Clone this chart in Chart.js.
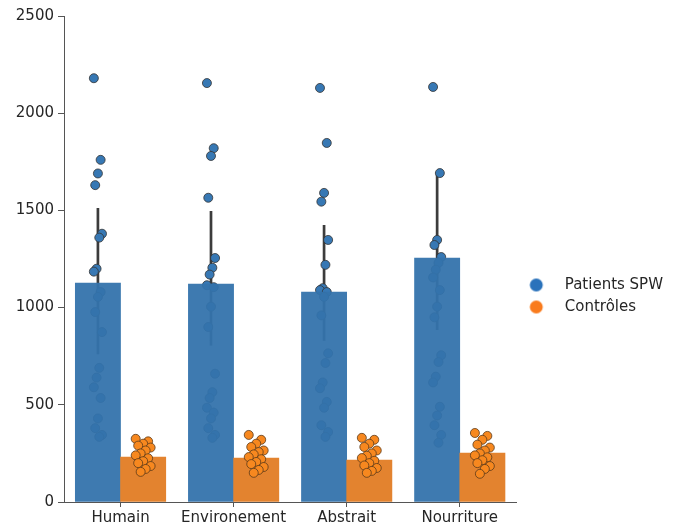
<!DOCTYPE html>
<html lang="fr">
<head>
<meta charset="utf-8">
<title>Patients SPW vs Contrôles</title>
<script src="https://cdn.jsdelivr.net/npm/chart.js@4.4.1/dist/chart.umd.min.js"></script>
<style>
    html, body { margin: 0; padding: 0; background: #fff; }
    #wrap { width: 673px; height: 532px; position: relative; }
</style>
</head>
<body>
<div id="wrap"><canvas id="stripChart"></canvas></div>
<script>
// Catégories et moyennes (barres)
const categories = ['Humain', 'Environement', 'Abstrait', 'Nourriture'];
const seriesNames = ['Patients SPW', 'Contrôles'];
const yTicks = [0, 500, 1000, 1500, 2000, 2500];

const meanSPW = [1126, 1121, 1080, 1255];
const meanCtl = [231, 226, 216, 252];

// Intervalles de confiance (barres d'erreur)
const ciLowSPW = [760, 805, 830, 885];
const ciHighSPW = [1512, 1497, 1425, 1697];
const ciLowCtl = [205, 202, 195, 225];
const ciHighCtl = [257, 250, 238, 280];

// Valeurs individuelles (points)
const spwHumain = [2180, 1760, 1690, 1630, 1380, 1360, 1200, 1185, 1080, 1055, 977, 874, 690, 640, 590, 535, 430, 380, 345, 335];
const spwEnvironement = [2155, 1820, 1780, 1565, 1255, 1205, 1170, 1115, 1105, 1005, 900, 660, 565, 535, 485, 460, 430, 380, 345, 330];
const spwAbstrait = [2130, 1847, 1590, 1545, 1348, 1220, 1100, 1090, 1080, 1055, 960, 765, 715, 615, 585, 515, 485, 395, 360, 335];
const spwNourriture = [2135, 1692, 1348, 1322, 1260, 1230, 1195, 1155, 1090, 1005, 950, 755, 720, 645, 615, 490, 445, 395, 345, 305];

const ctlHumain = [325, 312, 300, 290, 280, 265, 250, 240, 225, 210, 200, 185, 170, 155];
const ctlEnvironement = [345, 320, 300, 283, 265, 257, 245, 231, 220, 206, 195, 180, 165, 150];
const ctlAbstrait = [330, 320, 300, 283, 265, 250, 238, 226, 212, 200, 188, 175, 160, 150];
const ctlNourriture = [355, 340, 320, 295, 280, 265, 250, 240, 230, 215, 200, 185, 170, 145];

const spwPoints = [spwHumain, spwEnvironement, spwAbstrait, spwNourriture];
const ctlPoints = [ctlHumain, ctlEnvironement, ctlAbstrait, ctlNourriture];

const COL_BAR_SPW = 'rgba(52, 115, 172, 0.95)';
const COL_BAR_CTL = '#e3832f';
const COL_PT_SPW = '#3778b4';
const COL_PT_CTL = '#f7881f';
const COL_ERR = '#3c3c3c';
const COL_TEXT = '#262626';
const COL_AXIS = '#555555';

const DODGE = 0.2;

// Barres placées sur l'axe linéaire (centre de catégorie +/- DODGE)
function barData(means, side) {
    return means.map((v, i) => ({ x: i + side * DODGE, y: v }));
}

// Points en bande : décalage fixe (non aléatoire) autour du centre de la barre
function stripData(groups, side, spread) {
    const out = [];
    groups.forEach((vals, i) => {
        vals.forEach((v, k) => {
            const jit = (((k * 5) % 7) - 3) * spread;
            out.push({ x: i + side * DODGE + jit, y: v });
        });
    });
    return out;
}

function errData(lo, hi, side) {
    const out = [];
    lo.forEach((l, i) => {
        const x = i + side * DODGE;
        out.push({ x: x, y: l }, { x: x, y: hi[i] }, { x: x, y: null });
    });
    return out;
}

// Marqueurs de légende : cercle dans une petite image
function legendMarker(color) {
    const c = document.createElement('canvas');
    c.width = 34;
    c.height = 15;
    const g = c.getContext('2d');
    g.fillStyle = color;
    g.beginPath();
    g.arc(13, 7.5, 6.5, 0, Math.PI * 2);
    g.fill();
    return c;
}
const markers = [legendMarker('#2a72bb'), legendMarker('#f97b1d')];

Chart.defaults.font.family = "'DejaVu Sans', sans-serif";
Chart.defaults.font.size = 15;
Chart.defaults.color = COL_TEXT;

const barCommon = {
    type: 'bar', borderWidth: 0, grouped: false,
    categoryPercentage: 1.0, barPercentage: 1.0
};

new Chart(document.getElementById('stripChart'), {
    type: 'bar',
    data: {
        datasets: [
            Object.assign({}, barCommon, {
                label: seriesNames[0], data: barData(meanSPW, -1),
                backgroundColor: COL_BAR_SPW, order: 3
            }),
            Object.assign({}, barCommon, {
                label: seriesNames[1], data: barData(meanCtl, 1),
                backgroundColor: COL_BAR_CTL, order: 2
            }),
            {
                type: 'line', label: 'errSPW', data: errData(ciLowSPW, ciHighSPW, -1),
                borderColor: COL_ERR, borderWidth: 2.7, pointRadius: 0, spanGaps: false,
                borderCapStyle: 'butt', order: 5
            },
            {
                type: 'line', label: 'ptsSPW', data: stripData(spwPoints, -1, 0.012),
                showLine: false, pointRadius: 4.5, pointBackgroundColor: COL_PT_SPW,
                pointBorderColor: '#333333', pointBorderWidth: 0.8, order: 4
            },
            {
                type: 'line', label: 'errCtl', data: errData(ciLowCtl, ciHighCtl, 1),
                borderColor: COL_ERR, borderWidth: 2.7, pointRadius: 0, spanGaps: false,
                borderCapStyle: 'butt', order: 1
            },
            {
                type: 'line', label: 'ptsCtl', data: stripData(ctlPoints, 1, 0.022),
                showLine: false, pointRadius: 4.5, pointBackgroundColor: COL_PT_CTL,
                pointBorderColor: '#5a3a1a', pointBorderWidth: 0.8, order: 0
            }
        ]
    },
    options: {
        responsive: true,
        maintainAspectRatio: false,
        animation: false,
        events: [],
        layout: { padding: { top: 16, right: 0, bottom: 0, left: 0 } },
        scales: {
            x: {
                type: 'linear',
                offset: false,
                min: -0.5,
                max: categories.length - 0.5,
                afterBuildTicks: (scale) => { scale.ticks = categories.map((c, i) => ({ value: i })); },
                grid: { display: true, drawOnChartArea: false, offset: false, tickLength: 5, color: COL_AXIS },
                border: { display: true, color: COL_AXIS, width: 1 },
                ticks: {
                    color: COL_TEXT, padding: 2, maxRotation: 0, autoSkip: false,
                    callback: (v) => categories[v]
                },
                afterFit: (scale) => { scale.height = 30; }
            },
            y: {
                type: 'linear',
                min: yTicks[0],
                max: yTicks[yTicks.length - 1],
                afterBuildTicks: (scale) => { scale.ticks = yTicks.map(v => ({ value: v })); },
                grid: { display: true, drawOnChartArea: false, tickLength: 6, color: COL_AXIS },
                border: { display: true, color: COL_AXIS, width: 1 },
                ticks: { color: COL_TEXT, padding: 4, callback: (v) => String(v) },
                afterFit: (scale) => { scale.width = 64; }
            }
        },
        plugins: {
            tooltip: { enabled: false },
            legend: {
                position: 'right',
                align: 'center',
                title: { display: true, text: '', padding: { top: 26, bottom: 0 } },
                labels: {
                    usePointStyle: true,
                    pointStyleWidth: 34,
                    padding: 7,
                    color: COL_TEXT,
                    generateLabels: () => seriesNames.map((name, i) => ({
                        text: name,
                        pointStyle: markers[i],
                        fillStyle: 'transparent',
                        strokeStyle: 'transparent',
                        lineWidth: 0,
                        hidden: false,
                        datasetIndex: i,
                        fontColor: COL_TEXT
                    }))
                }
            }
        }
    }
});
</script>
</body>
</html>
